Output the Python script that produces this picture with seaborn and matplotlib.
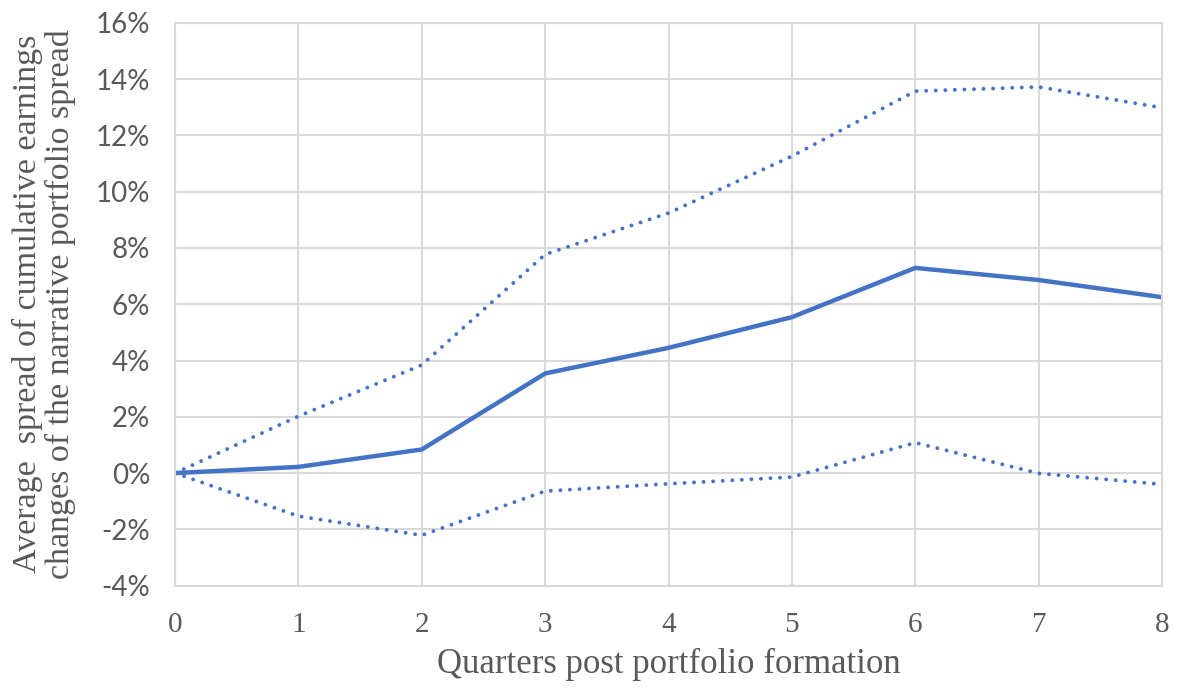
import matplotlib
matplotlib.use("Agg")
import matplotlib.pyplot as plt
import seaborn as sns
import pandas as pd
from matplotlib.ticker import FuncFormatter

# Quarters after portfolio formation
quarters = [0, 1, 2, 3, 4, 5, 6, 7, 8]
# Average spread (in %) and its upper / lower confidence bounds
spread_mean = [0.0, 0.22, 0.84, 3.54, 4.45, 5.54, 7.29, 6.86, 6.25]
spread_upper = [0.0, 2.02, 3.84, 7.77, 9.24, 11.26, 13.57, 13.72, 12.98]
spread_lower = [0.0, -1.53, -2.21, -0.64, -0.38, -0.14, 1.08, -0.01, -0.40]
y_ticks = [-4, -2, 0, 2, 4, 6, 8, 10, 12, 14, 16]

sns.set_theme(style="white")
plt.rcParams["font.family"] = ["Liberation Serif", "DejaVu Serif"]

df = pd.DataFrame({"q": quarters, "mean": spread_mean,
                   "upper": spread_upper, "lower": spread_lower})

fig = plt.figure(figsize=(11.77, 6.9), dpi=100)
ax = fig.add_axes([0.1487, 0.1512, 0.8386, 0.8158])

blue = "#4472C4"
dots = (0, (0.01, 2.45))
sns.lineplot(data=df, x="q", y="upper", ax=ax, color=blue, lw=2.8,
             linestyle=dots, dash_capstyle="round")
sns.lineplot(data=df, x="q", y="lower", ax=ax, color=blue, lw=2.8,
             linestyle=dots, dash_capstyle="round")
sns.lineplot(data=df, x="q", y="mean", ax=ax, color=blue, lw=3.2)

ax.set_xlim(0, 8)
ax.set_ylim(-4, 16)
ax.set_xticks(quarters)
ax.set_yticks(y_ticks)
ax.yaxis.set_major_formatter(FuncFormatter(lambda v, p: f"{v:.0f}%"))

grid_c = "#d9d9d9"
ax.grid(True, color=grid_c, lw=1.5)
ax.set_axisbelow(True)
for s in ax.spines.values():
    s.set_color(grid_c)
    s.set_linewidth(1.5)

ax.tick_params(axis="both", length=0)
ax.tick_params(axis="x", pad=19, labelsize=21, labelcolor="#595959")
ax.tick_params(axis="y", pad=18, labelsize=20, labelcolor="#595959")
for lab in ax.get_yticklabels():
    lab.set_fontfamily(["Lato", "DejaVu Sans"])

ax.set_xlabel("Quarters post portfolio formation", fontsize=25,
              color="#595959", labelpad=7)
ax.set_ylabel("Average  spread of cumulative earnings\nchanges of the narrative portfolio spread",
              fontsize=24.5, color="#595959", labelpad=14, linespacing=1.1)

fig.savefig("out.png", dpi=100, facecolor="white")
